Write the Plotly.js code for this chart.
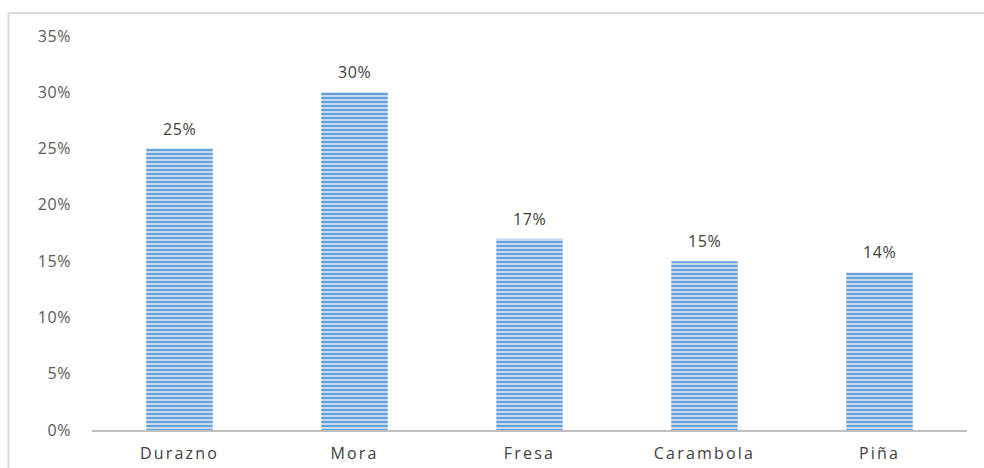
<!DOCTYPE html>
<html>
<head>
<meta charset="utf-8">
<script src="https://cdn.plot.ly/plotly-3.0.1.min.js"></script>
<style>
html,body{margin:0;padding:0;background:#fff;}
#chart{width:984px;height:468px;}
#chart .xtick text{letter-spacing:2.2px;}
#chart .ytick text{letter-spacing:0.6px;}
#chart .annotation-text{letter-spacing:0.6px;}
</style>
</head>
<body>
<div id="chart"></div>
<script>
const categories = ["Durazno", "Mora", "Fresa", "Carambola", "Piña"];
const values = [0.25, 0.30, 0.17, 0.15, 0.14];
const labels = ["25%", "30%", "17%", "15%", "14%"];
const yTickVals = [0, 0.05, 0.10, 0.15, 0.20, 0.25, 0.30, 0.35];
const yTickText = ["0%", "5%", "10%", "15%", "20%", "25%", "30%", "35%"];

const trace = {
  type: "bar",
  x: categories,
  y: values,
  width: 0.38,
  marker: {
    color: "#c3daf2",
    line: {width: 0},
    pattern: {shape: "-", fgcolor: "#5b9bd5", bgcolor: "#c3daf2", size: 4, solidity: 0.45}
  },
  hoverinfo: "skip"
};

const annotations = categories.map((c, i) => ({
  x: c, y: values[i], text: labels[i],
  xref: "x", yref: "y", showarrow: false,
  yanchor: "bottom", yshift: 7,
  font: {family: "Open Sans, Liberation Sans, sans-serif", size: 16, color: "#404040"}
}));

const layout = {
  width: 984, height: 468,
  margin: {l: 92, r: 17, t: 36, b: 38},
  paper_bgcolor: "#ffffff",
  plot_bgcolor: "#ffffff",
  showlegend: false,
  font: {family: "Open Sans, Liberation Sans, sans-serif", size: 16, color: "#595959"},
  xaxis: {
    showgrid: false, zeroline: false,
    showline: true, linecolor: "#bfbfbf", linewidth: 2,
    ticks: "", ticklabelstandoff: 8,
    tickfont: {size: 16, color: "#404040"},
    fixedrange: true
  },
  yaxis: {
    range: [0, 0.35],
    tickvals: yTickVals, ticktext: yTickText,
    showgrid: false, zeroline: false, showline: false,
    ticks: "", ticklabelstandoff: 20,
    tickfont: {size: 16, color: "#595959"},
    fixedrange: true
  },
  annotations: annotations,
  shapes: [
    {type: "line", xref: "paper", yref: "paper", x0: -0.0955, x1: -0.0955, y0: -0.2, y1: 1.0584, line: {color: "#d9d9d9", width: 2}},
    {type: "line", xref: "paper", yref: "paper", x0: -0.0955, x1: 1.1, y0: 1.0584, y1: 1.0584, line: {color: "#d9d9d9", width: 2}}
  ]
};

Plotly.newPlot("chart", [trace], layout, {displayModeBar: false, staticPlot: true});
</script>
</body>
</html>
